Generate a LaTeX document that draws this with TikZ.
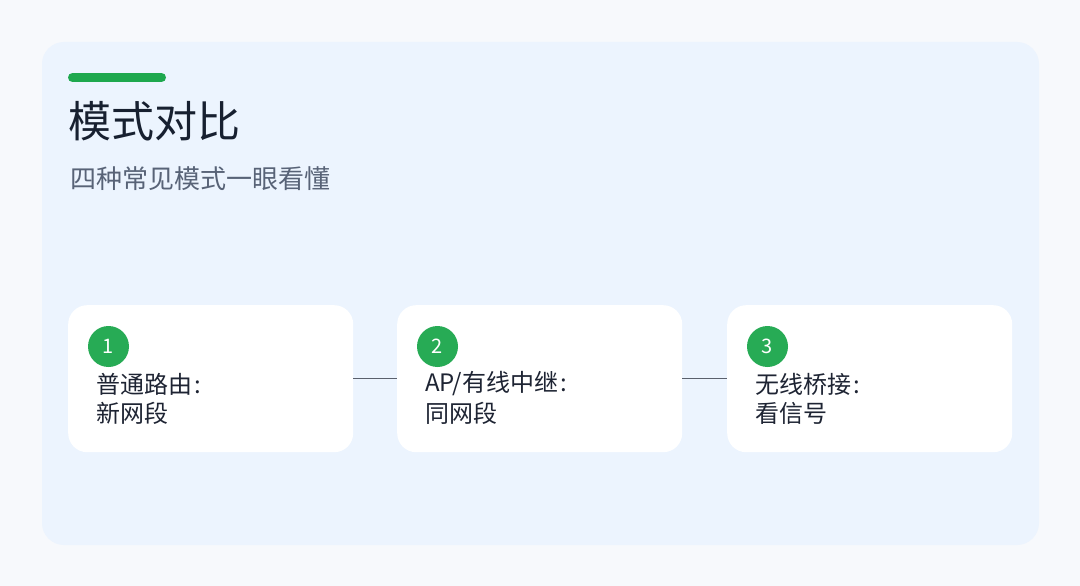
\documentclass[tikz,border=0pt]{standalone}
\usepackage{fontspec}
\setmainfont{Noto Sans CJK SC}
\newfontfamily\cjk{Noto Sans CJK SC}
\definecolor{pagebg}{HTML}{F7F9FC}
\definecolor{panelbg}{HTML}{ECF4FE}
\definecolor{accent}{HTML}{1EA84E}
\definecolor{badge}{HTML}{27AB55}
\definecolor{titlec}{HTML}{172030}
\definecolor{subc}{HTML}{586377}
\definecolor{textc}{HTML}{1E2433}
\definecolor{linec}{HTML}{5A606C}
\newcommand{\colonmark}{\kern2pt:}
\tikzset{
  card/.style={fill=white, rounded corners=19pt, minimum width=285pt, minimum height=147pt, inner sep=0pt, anchor=north west},
  badgenode/.style={circle, fill=badge, minimum size=41pt, inner sep=0pt, text=white, font=\cjk\fontsize{20}{24}\selectfont},
  cardtext/.style={anchor=west, inner sep=0pt, text=textc, font=\cjk\fontsize{24}{29}\selectfont},
  connector/.style={draw=linec, line width=0.9pt},
}
\begin{document}
\begin{tikzpicture}[x=1pt,y=-1pt]
\useasboundingbox (0,0) rectangle (1080,586);
\fill[pagebg] (0,0) rectangle (1080,586);
\fill[panelbg, rounded corners=22pt] (42,42) rectangle (1039,545);
\draw[accent, line width=9pt, line cap=round] (72.5,77.5) -- (161.5,77.5);
\node[anchor=west, inner sep=0pt, text=titlec, font=\cjk\fontsize{43}{50}\selectfont] (title) at (68.5,121.5) {模式对比};
\node[anchor=west, inner sep=0pt, text=subc, font=\cjk\fontsize{26}{30}\selectfont] (subtitle) at (70,179) {四种常见模式一眼看懂};

\node[card] (c1) at (68,305) {};
\node[card] (c2) at (397,305) {};
\node[card] (c3) at (727,305) {};

\draw[connector] (c1.east |- 0,378) -- (c2.west |- 0,378);
\draw[connector] (c2.east |- 0,378) -- (c3.west |- 0,378);

\node[badgenode] (b1) at (108.5,346.5) {1};
\node[badgenode] (b2) at (437.5,346.5) {2};
\node[badgenode] (b3) at (767.5,346.5) {3};

\node[cardtext] (t1a) at (96,384) {普通路由\colonmark};
\node[cardtext] (t1b) at (96,413) {新网段};
\node[cardtext] (t2a) at (425,384) {AP/有线中继\colonmark};
\node[cardtext] (t2b) at (425,413) {同网段};
\node[cardtext] (t3a) at (755,384) {无线桥接\colonmark};
\node[cardtext] (t3b) at (755,413) {看信号};
\end{tikzpicture}
\end{document}
